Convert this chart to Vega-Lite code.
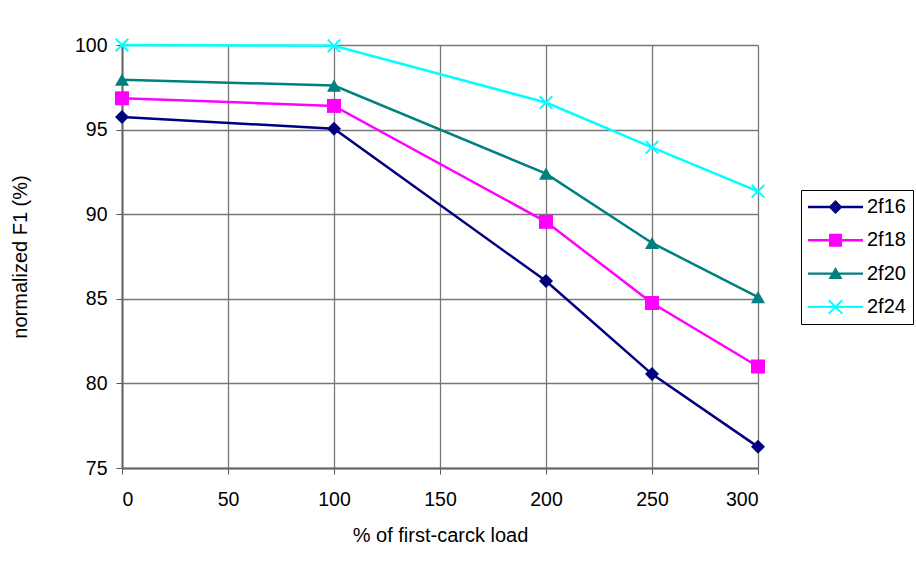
{
  "$schema": "https://vega.github.io/schema/vega-lite/v6.json",
  "width": 636,
  "height": 423,
  "autosize": "none",
  "padding": {"left": 122, "top": 45, "right": 158, "bottom": 105},
  "background": "white",
  "config": {
    "view": {"stroke": null},
    "font": "Liberation Sans",
    "axis": {
      "grid": true,
      "gridColor": "#777777",
      "gridWidth": 1.3,
      "gridOpacity": 1,
      "domainColor": "#666666",
      "domainWidth": 2,
      "tickColor": "#555555",
      "tickWidth": 1,
      "tickSize": 6,
      "labelFont": "Liberation Sans",
      "labelFontSize": 19.5,
      "labelColor": "#000000",
      "titleFont": "Liberation Sans",
      "titleFontSize": 20,
      "titleFontWeight": "normal",
      "titleColor": "#000000"
    }
  },
  "data": {
    "values": [
      {"load": 0, "series": "2f16", "f1": 95.75},
      {"load": 100, "series": "2f16", "f1": 95.05},
      {"load": 200, "series": "2f16", "f1": 86.05},
      {"load": 250, "series": "2f16", "f1": 80.55},
      {"load": 300, "series": "2f16", "f1": 76.25},
      {"load": 0, "series": "2f18", "f1": 96.85},
      {"load": 100, "series": "2f18", "f1": 96.4},
      {"load": 200, "series": "2f18", "f1": 89.55},
      {"load": 250, "series": "2f18", "f1": 84.75},
      {"load": 300, "series": "2f18", "f1": 81.0},
      {"load": 0, "series": "2f20", "f1": 97.95},
      {"load": 100, "series": "2f20", "f1": 97.6},
      {"load": 200, "series": "2f20", "f1": 92.4},
      {"load": 250, "series": "2f20", "f1": 88.3},
      {"load": 300, "series": "2f20", "f1": 85.1},
      {"load": 0, "series": "2f24", "f1": 100.0},
      {"load": 100, "series": "2f24", "f1": 99.95},
      {"load": 200, "series": "2f24", "f1": 96.6},
      {"load": 250, "series": "2f24", "f1": 93.95},
      {"load": 300, "series": "2f24", "f1": 91.35}
    ]
  },
  "encoding": {
    "x": {
      "field": "load",
      "type": "quantitative",
      "scale": {"domain": [0, 300], "nice": false, "zero": false},
      "axis": {
        "title": "% of first-carck load",
        "values": [0, 50, 100, 150, 200, 250, 300],
        "labelPadding": 16,
        "titlePadding": 17
      }
    },
    "y": {
      "field": "f1",
      "type": "quantitative",
      "scale": {"domain": [75, 100], "nice": false, "zero": false},
      "axis": {
        "title": "normalized F1 (%)",
        "values": [75, 80, 85, 90, 95, 100],
        "labelPadding": 9,
        "titlePadding": 44
      }
    }
  },
  "layer": [
    {
      "mark": {"type": "line", "strokeWidth": 2.5},
      "encoding": {
        "color": {
          "field": "series",
          "type": "nominal",
          "scale": {"domain": ["2f16", "2f18", "2f20", "2f24"], "range": ["#000080", "#FF00FF", "#008080", "#00FFFF"]},
          "legend": null
        }
      }
    },
    {
      "mark": {"type": "point", "filled": true, "size": 196, "opacity": 1},
      "encoding": {
        "color": {
          "field": "series",
          "type": "nominal",
          "scale": {"domain": ["2f16", "2f18", "2f20", "2f24"], "range": ["#000080", "#FF00FF", "#008080", "#00FFFF"]},
          "legend": null
        },
        "shape": {
          "field": "series",
          "type": "nominal",
          "scale": {
            "domain": ["2f16", "2f18", "2f20", "2f24"],
            "range": ["diamond", "square", "triangle-up", "M-1,-0.8L-0.8,-1L0,-0.2L0.8,-1L1,-0.8L0.2,0L1,0.8L0.8,1L0,0.2L-0.8,1L-1,0.8L-0.2,0Z"]
          },
          "legend": null
        }
      }
    },
    {
      "transform": [{"filter": "datum.load < 0"}],
      "mark": {"type": "point", "filled": true, "opacity": 1},
      "encoding": {
        "color": {
          "field": "series",
          "type": "nominal",
          "scale": {"domain": ["2f16", "2f18", "2f20", "2f24"], "range": ["#000080", "#FF00FF", "#008080", "#00FFFF"]},
          "legend": {
            "title": null,
            "orient": "none",
            "legendX": 679,
            "legendY": 145,
            "strokeColor": "#000000",
            "fillColor": "#FFFFFF",
            "padding": 7,
            "symbolSize": 400,
            "symbolStrokeWidth": 0,
            "labelFont": "Liberation Sans",
            "labelFontSize": 20,
            "labelColor": "#000000",
            "labelOffset": 39,
            "rowPadding": 13.3
          }
        },
        "shape": {
          "field": "series",
          "type": "nominal",
          "scale": {
            "domain": ["2f16", "2f18", "2f20", "2f24"],
            "range": [
              "M-1,-0.12H4.5V0.12H-1Z M1.05,0L1.75,-0.7L2.45,0L1.75,0.7Z",
              "M-1,-0.12H4.5V0.12H-1Z M1.1,-0.65H2.4V0.65H1.1Z",
              "M-1,-0.12H4.5V0.12H-1Z M1.75,-0.65L2.45,0.55L1.05,0.55Z",
              "M-1,-0.12H4.5V0.12H-1Z M1,-0.61L1.14,-0.75L1.75,-0.14L2.36,-0.75L2.5,-0.61L1.89,0L2.5,0.61L2.36,0.75L1.75,0.14L1.14,0.75L1,0.61L1.61,0Z"
            ]
          },
          "legend": {
            "title": null,
            "orient": "none",
            "legendX": 679,
            "legendY": 145,
            "strokeColor": "#000000",
            "fillColor": "#FFFFFF",
            "padding": 7,
            "symbolSize": 400,
            "symbolStrokeWidth": 0,
            "labelFont": "Liberation Sans",
            "labelFontSize": 20,
            "labelColor": "#000000",
            "labelOffset": 39,
            "rowPadding": 13.3
          }
        }
      }
    }
  ],
  "resolve": {"scale": {"color": "independent", "shape": "independent"}}
}
